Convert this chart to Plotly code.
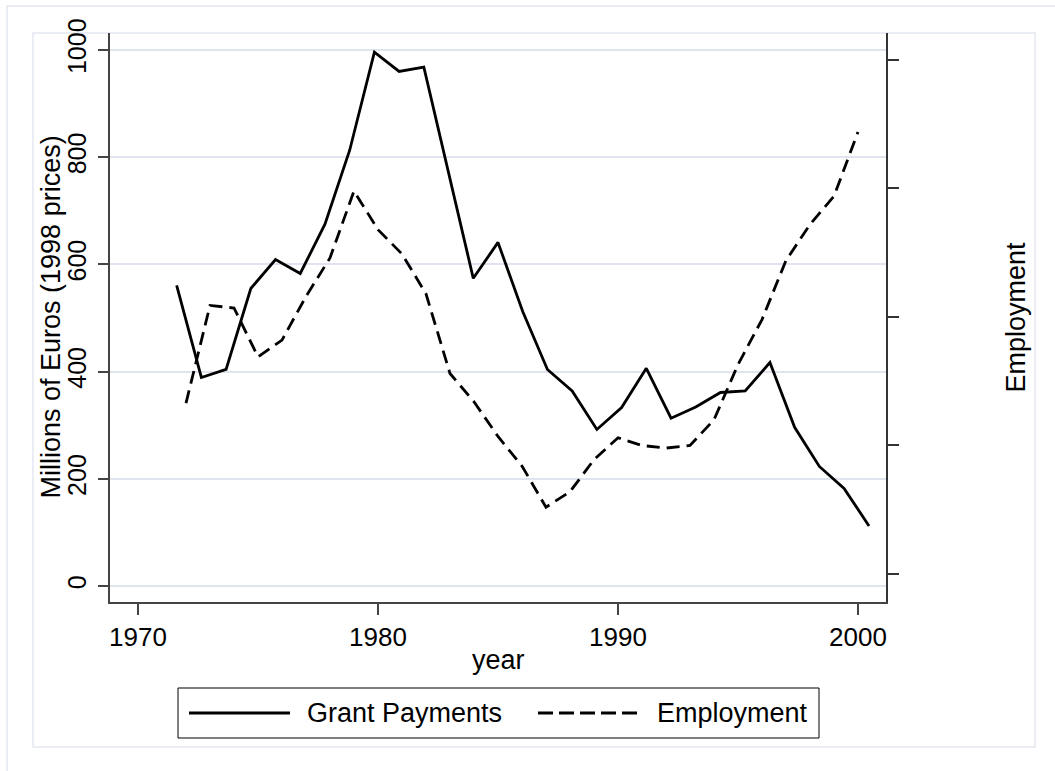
import plotly.graph_objects as go

# ---- data ----
grant_x = [1971.61, 1972.64, 1973.67, 1974.70, 1975.73, 1976.76, 1977.79, 1978.82,
           1979.85, 1980.88, 1981.91, 1982.94, 1983.97, 1985.00, 1986.03, 1987.06,
           1988.09, 1989.12, 1990.15, 1991.18, 1992.21, 1993.24, 1994.27, 1995.30,
           1996.33, 1997.36, 1998.39, 1999.42, 2000.46]
grant_payments = [561, 389, 404, 555, 609, 583, 675, 813, 996, 960, 968, 770, 574, 641,
                  512, 404, 364, 292, 333, 406, 313, 334, 361, 364, 417, 296, 223, 182, 112]

emp_years = list(range(1972, 2001))
employment = [23.3, 30.9, 30.7, 26.9, 28.2, 31.6, 34.6, 39.8, 36.8, 34.9, 31.8, 25.6, 23.4,
              20.7, 18.4, 15.2, 16.4, 18.9, 20.6, 20.0, 19.8, 20.0, 22.0, 26.3, 29.8, 34.4,
              37.2, 39.4, 44.4]

x_ticks = [1970, 1980, 1990, 2000]
y_ticks = [0, 200, 400, 600, 800, 1000]
y2_ticks = [10, 20, 30, 40, 50]

# ---- layout geometry (pixels) ----
W, H = 1055, 771
L, R, T, B = 110, 886, 33, 602   # plot area edges


def px(x):
    return (x - L) / (R - L)


def py(y):
    return (B - y) / (B - T)


FONT = "Liberation Sans, Arial, Helvetica, sans-serif"
AXC = "#444444"
GRID = "#e0e4ef"
FRAME = "#e4e7ef"

fig = go.Figure()
fig.add_trace(go.Scatter(x=grant_x, y=grant_payments, mode="lines", name="Grant Payments",
                         line=dict(color="black", width=2.8), showlegend=False))
fig.add_trace(go.Scatter(x=emp_years, y=employment, mode="lines", name="Employment",
                         yaxis="y2", line=dict(color="black", width=2.8, dash="13px,7px"),
                         showlegend=False))

fig.update_layout(
    width=W, height=H,
    margin=dict(l=L, r=W - R, t=T, b=H - B, pad=0),
    paper_bgcolor="white", plot_bgcolor="white",
    font=dict(family=FONT, color="black"),
    xaxis=dict(range=[1968.833, 2001.167], tickvals=x_ticks, ticks="outside", ticklen=11,
               tickwidth=1.5, tickcolor=AXC, showline=True, linecolor=AXC, linewidth=1.5,
               showgrid=False, zeroline=False, tickfont=dict(size=26, family=FONT)),
    yaxis=dict(range=[-29.9, 1031.7], tickvals=y_ticks, ticks="outside", ticklen=10,
               tickwidth=1.5, tickcolor=AXC, showline=True, linecolor=AXC, linewidth=1.5,
               showgrid=True, gridcolor=GRID, gridwidth=2, zeroline=False, tickangle=-90,
               tickfont=dict(size=25, family=FONT), ticklabelstandoff=2),
    yaxis2=dict(range=[7.82, 52.10], tickvals=y2_ticks, overlaying="y", side="right",
                ticks="outside", ticklen=11, tickwidth=1.5, tickcolor="#333333",
                showline=True, linecolor="#333333", linewidth=1.5, showgrid=False,
                zeroline=False, showticklabels=False),
    showlegend=False,
)

shapes = [
    # outer frame
    dict(type="rect", xref="paper", yref="paper", x0=px(7), x1=px(1062), y0=py(780), y1=py(6),
         line=dict(color=FRAME, width=1.5), layer="below"),
    # inner frame
    dict(type="rect", xref="paper", yref="paper", x0=px(33), x1=px(1035), y0=py(747), y1=py(33),
         line=dict(color=FRAME, width=1.5), layer="below"),
    # legend box
    dict(type="rect", xref="paper", yref="paper", x0=px(178), x1=px(819), y0=py(738), y1=py(688),
         line=dict(color="black", width=1), fillcolor="white"),
    dict(type="line", xref="paper", yref="paper", x0=px(189), x1=px(290), y0=py(713), y1=py(713),
         line=dict(color="black", width=3)),
    dict(type="line", xref="paper", yref="paper", x0=px(538), x1=px(641), y0=py(713), y1=py(713),
         line=dict(color="black", width=3, dash="15px,6px")),
]
fig.update_layout(shapes=shapes)

annotations = [
    dict(text="Millions of Euros (1998 prices)", x=px(50), y=0.5, xref="paper", yref="paper",
         textangle=-90, showarrow=False, font=dict(size=27, family=FONT),
         xanchor="center", yanchor="middle"),
    dict(text="Employment", x=px(1015), y=0.5, xref="paper", yref="paper",
         textangle=-90, showarrow=False, font=dict(size=27, family=FONT),
         xanchor="center", yanchor="middle"),
    dict(text="year", x=0.5, y=py(660), xref="paper", yref="paper", showarrow=False,
         font=dict(size=27, family=FONT), xanchor="center", yanchor="middle"),
    dict(text="Grant Payments", x=px(305), y=py(713), xref="paper", yref="paper",
         showarrow=False, font=dict(size=27, family=FONT), xanchor="left", yanchor="middle"),
    dict(text="Employment", x=px(655), y=py(713), xref="paper", yref="paper",
         showarrow=False, font=dict(size=27, family=FONT), xanchor="left", yanchor="middle"),
]
fig.update_layout(annotations=annotations)

fig.write_html("out.html", config={"displayModeBar": False},
               post_script="document.body.style.margin='0px';")
